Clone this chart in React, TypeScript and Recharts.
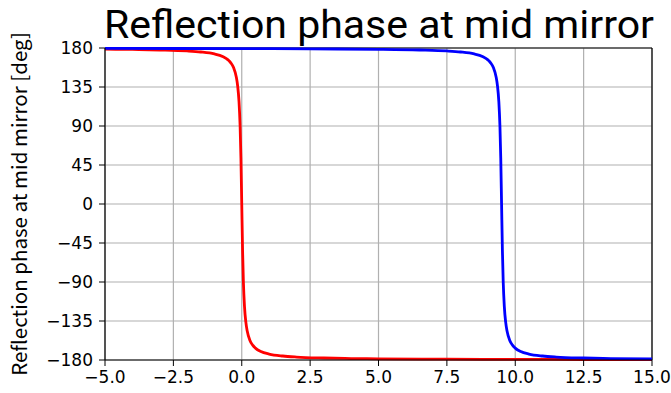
import React from "react";
import {
  LineChart,
  Line,
  XAxis,
  YAxis,
  CartesianGrid,
  ReferenceLine,
} from "recharts";

// detuning sweep for the first resonance (red) — phase in degrees
const redX = [
  -5, -4, -3, -2, -1.5, -1, -0.7, -0.5, -0.4, -0.3, -0.2, -0.15, -0.1, -0.06,
  -0.03, 0, 0.03, 0.06, 0.1, 0.15, 0.2, 0.3, 0.4, 0.5, 0.7, 1, 1.5, 2, 3, 4, 5,
  7.5, 10, 12.5, 15,
];
const redPhase = [
  178.6, 178.3, 177.7, 176.6, 175.4, 173.1, 170.2, 166.3, 162.9, 157.4, 146.6,
  136.4, 118.1, 90, 53.1, 0, -53.1, -90, -118.1, -136.4, -146.6, -157.4, -162.9,
  -166.3, -170.2, -173.1, -175.4, -176.6, -177.7, -178.3, -178.6, -179.1,
  -179.3, -179.45, -179.5,
];

// second resonance (blue)
const blueX = [
  -5, 0, 2.5, 5, 6.5, 7.5, 8, 8.5, 8.8, 9, 9.1, 9.2, 9.3, 9.35, 9.4, 9.44,
  9.47, 9.5, 9.53, 9.56, 9.6, 9.65, 9.7, 9.8, 9.9, 10, 10.2, 10.5, 11, 11.5,
  12.5, 13.5, 15,
];
const bluePhase = [
  179.5, 179.3, 179.0, 178.5, 177.7, 176.6, 175.4, 173.1, 170.2, 166.3, 162.9,
  157.4, 146.6, 136.4, 118.1, 90, 53.1, 0, -53.1, -90, -118.1, -136.4, -146.6,
  -157.4, -162.9, -166.3, -170.2, -173.1, -175.4, -176.6, -177.7, -178.3,
  -178.75,
];

const xTicks = [-5, -2.5, 0, 2.5, 5, 7.5, 10, 12.5, 15];
const yTicks = [-180, -135, -90, -45, 0, 45, 90, 135, 180];

const titleText = "Reflection phase at mid mirror";
const yLabelText = "Reflection phase at mid mirror [deg]";

const redData = redX.map((x, i) => ({ x, phase: redPhase[i] }));
const blueData = blueX.map((x, i) => ({ x, phase: bluePhase[i] }));

const minus = (s: string) => s.replace("-", "\u2212");
const tickFont = { fontFamily: "DejaVu Sans", fontSize: 17, fill: "#000" };
const jpFont = "'Noto Sans CJK JP', 'Noto Sans', sans-serif";

const App: React.FC = () => {
  return (
    <div style={{ position: "relative", width: 671, height: 393 }}>
      <style>{`body{margin:0}`}</style>
      <LineChart
        width={671}
        height={393}
        margin={{ top: 48, right: 19, bottom: 0, left: 0 }}
      >
        <CartesianGrid stroke="#b0b0b0" strokeWidth={1.2} />
        <XAxis
          type="number"
          dataKey="x"
          domain={[-5, 15]}
          ticks={xTicks}
          allowDuplicatedCategory={false}
          tickFormatter={(v: number) => minus(v.toFixed(1))}
          tick={tickFont}
          tickSize={6}
          tickMargin={5}
          height={33}
          stroke="#000"
          axisLine={{ stroke: "#000", strokeWidth: 1.2 }}
          tickLine={{ stroke: "#000" }}
        />
        <YAxis
          type="number"
          dataKey="phase"
          domain={[-180, 180]}
          ticks={yTicks}
          tickFormatter={(v: number) => minus(String(v))}
          tick={tickFont}
          tickSize={6}
          tickMargin={6}
          width={105}
          axisLine={{ stroke: "#000", strokeWidth: 1.2 }}
          tickLine={{ stroke: "#000" }}
          label={{
            content: ({ viewBox }: any) => {
              const cy = viewBox.y + viewBox.height / 2;
              return (
                <text
                  x={27}
                  y={cy}
                  transform={`rotate(-90, 27, ${cy})`}
                  textAnchor="middle"
                  style={{ fontFamily: jpFont, fontSize: 20.5, fill: "#000" }}
                >
                  {yLabelText}
                </text>
              );
            },
          }}
        />
        <ReferenceLine y={180} stroke="#000" strokeWidth={1.2} />
        <ReferenceLine x={15} stroke="#000" strokeWidth={1.2} />
        <Line
          data={redData}
          dataKey="phase"
          type="monotone"
          stroke="#ff0000"
          strokeWidth={2.8}
          dot={false}
          isAnimationActive={false}
        />
        <Line
          data={blueData}
          dataKey="phase"
          type="monotone"
          stroke="#0000ff"
          strokeWidth={2.8}
          dot={false}
          isAnimationActive={false}
        />
      </LineChart>
      {/* title overlay */}
      <svg
        width={671}
        height={70}
        style={{ position: "absolute", left: 0, top: 0, pointerEvents: "none" }}
      >
        <text
          x={379}
          y={38}
          textAnchor="middle"
          textLength={550}
          lengthAdjust="spacingAndGlyphs"
          style={{ fontFamily: "Roboto", fontSize: 39, fill: "#000" }}
        >
          {titleText}
        </text>
      </svg>
    </div>
  );
};

export default App;
